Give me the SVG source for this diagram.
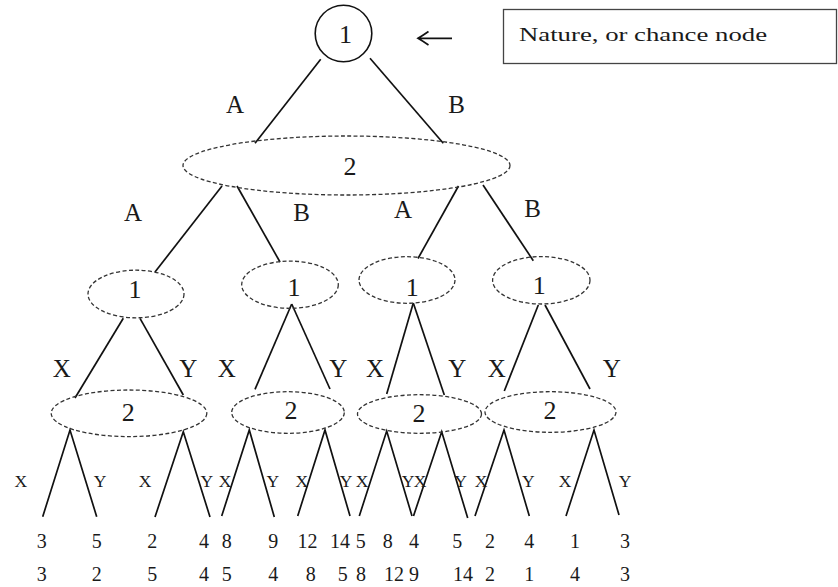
<svg xmlns="http://www.w3.org/2000/svg" width="838" height="587" viewBox="0 0 838 587">
<style>
.bg{fill:#fff}
.e{fill:none;stroke:#333;stroke-width:1.3;stroke-dasharray:4 2.4}
.c{fill:none;stroke:#111;stroke-width:1.6}
.l{stroke:#111;stroke-width:1.7;fill:none}
text{font-family:"Liberation Serif","DejaVu Serif",serif;fill:#1a1a1a;text-anchor:middle}
.n{font-size:26px}
.lb{font-size:25px}
.xs{font-size:17.5px}
.num{font-size:20px}
</style>
<rect class="bg" x="0" y="0" width="838" height="587"/>

<g id="connectors">
<line class="l" x1="320.7" y1="59.3" x2="255" y2="143.3"/>
<line class="l" x1="370" y1="58.3" x2="443.3" y2="143.3"/>
<line class="l" x1="222" y1="186" x2="155" y2="272"/>
<line class="l" x1="237" y1="186" x2="280" y2="262"/>
<line class="l" x1="458.5" y1="186" x2="418" y2="258.5"/>
<line class="l" x1="483" y1="185" x2="533.3" y2="260.7"/>
<line class="l" x1="123.3" y1="318.3" x2="75" y2="398"/>
<line class="l" x1="140" y1="318.3" x2="183.3" y2="395"/>
<line class="l" x1="291.7" y1="304" x2="255" y2="389.3"/>
<line class="l" x1="291.7" y1="304" x2="330" y2="389"/>
<line class="l" x1="413.3" y1="303" x2="386.7" y2="394"/>
<line class="l" x1="413.3" y1="303" x2="444.3" y2="395"/>
<line class="l" x1="538.3" y1="305" x2="504.3" y2="391"/>
<line class="l" x1="545" y1="305" x2="590" y2="389"/>
<path class="l" d="M42.7 516.7 L70 430 L96.7 516.7"/>
<path class="l" d="M155 517 L183.3 431.7 L210 517"/>
<path class="l" d="M221.7 516 L249.3 430 L274.3 517"/>
<path class="l" d="M297.7 516 L325 430 L350 516"/>
<path class="l" d="M359.3 516 L386.7 431 L412 516"/>
<path class="l" d="M413.5 516 L441.7 431.7 L467.7 518"/>
<path class="l" d="M475 516 L504 430 L529.3 516"/>
<path class="l" d="M566 516 L594 430 L619 515"/>
<path class="l" d="M418 38.3 L452 38.3 M428.5 31.5 Q422 36 418 38.3 Q422 40.6 428.5 45"/>
</g>

<g id="edge-labels">
<text class="lb" x="235" y="113">A</text>
<text class="lb" x="456.7" y="113">B</text>
<text class="lb" x="133" y="221">A</text>
<text class="lb" x="301.7" y="221">B</text>
<text class="lb" x="403" y="218">A</text>
<text class="lb" x="532.7" y="217">B</text>
<text class="lb" x="61.7" y="377">X</text>
<text class="lb" x="188.3" y="377">Y</text>
<text class="lb" x="226.7" y="377">X</text>
<text class="lb" x="338.3" y="377">Y</text>
<text class="lb" x="375" y="377">X</text>
<text class="lb" x="457.3" y="377">Y</text>
<text class="lb" x="496.7" y="377">X</text>
<text class="lb" x="611.7" y="377">Y</text>
<text class="xs" x="20.7" y="487">X</text>
<text class="xs" x="100" y="487">Y</text>
<text class="xs" x="145" y="487">X</text>
<text class="xs" x="206.7" y="487">Y</text>
<text class="xs" x="225" y="487">X</text>
<text class="xs" x="272.7" y="487">Y</text>
<text class="xs" x="301.7" y="487">X</text>
<text class="xs" x="346" y="487">Y</text>
<text class="xs" x="362" y="487">X</text>
<text class="xs" x="408" y="487">Y</text>
<text class="xs" x="420" y="487">X</text>
<text class="xs" x="460.5" y="487">Y</text>
<text class="xs" x="481" y="487">X</text>
<text class="xs" x="528.3" y="487">Y</text>
<text class="xs" x="565" y="487">X</text>
<text class="xs" x="625" y="487">Y</text>
</g>

<g id="root-nature">
<circle class="c" cx="343.5" cy="33.5" r="28.3"/>
<text class="n" x="345.5" y="43.3">1</text>
</g>

<g id="legend">
<rect x="503.5" y="9.5" width="333" height="54" fill="none" stroke="#444" stroke-width="1.3"/>
<text x="519" y="41" style="font-size:19px;text-anchor:start" textLength="248" lengthAdjust="spacingAndGlyphs">Nature, or chance node</text>
</g>

<g id="p2-info">
<ellipse class="e" cx="346.5" cy="165.5" rx="163.5" ry="29.5"/>
<text class="n" x="350" y="175">2</text>
</g>

<g id="p1-a"><ellipse class="e" cx="136" cy="294" rx="48" ry="23.8"/><text class="n" x="135" y="298">1</text></g>
<g id="p1-b"><ellipse class="e" cx="290" cy="284.7" rx="48.3" ry="23.6"/><text class="n" x="294" y="296">1</text></g>
<g id="p1-c"><ellipse class="e" cx="407" cy="280" rx="48" ry="23.3"/><text class="n" x="412.3" y="296">1</text></g>
<g id="p1-d"><ellipse class="e" cx="541.3" cy="280.3" rx="48.7" ry="23.7"/><text class="n" x="539.3" y="294">1</text></g>

<g id="p2-a"><ellipse class="e" cx="129" cy="413.3" rx="77.8" ry="23.3"/><text class="n" x="128.3" y="421">2</text></g>
<g id="p2-b"><ellipse class="e" cx="288" cy="412.5" rx="56.3" ry="20.8"/><text class="n" x="291" y="419.3">2</text></g>
<g id="p2-c"><ellipse class="e" cx="419.5" cy="414" rx="62" ry="19.3"/><text class="n" x="419" y="421.5">2</text></g>
<g id="p2-d"><ellipse class="e" cx="550.5" cy="412" rx="65.5" ry="20.3"/><text class="n" x="550" y="419.3">2</text></g>

<g id="payoffs">
<text class="num" x="41.7" y="548">3</text><text class="num" x="41.7" y="580.5">3</text>
<text class="num" x="96.7" y="548">5</text><text class="num" x="96.7" y="580.5">2</text>
<text class="num" x="152.3" y="548">2</text><text class="num" x="152.3" y="580.5">5</text>
<text class="num" x="204" y="548">4</text><text class="num" x="204" y="580.5">4</text>
<text class="num" x="226.7" y="548">8</text><text class="num" x="226.7" y="580.5">5</text>
<text class="num" x="273.3" y="548">9</text><text class="num" x="273.3" y="580.5">4</text>
<text class="num" x="307.5" y="548">12</text><text class="num" x="310.7" y="580.5">8</text>
<text class="num" x="340" y="548">14</text><text class="num" x="342.7" y="580.5">5</text>
<text class="num" x="360.7" y="548">5</text><text class="num" x="361" y="580.5">8</text>
<text class="num" x="387.7" y="548">8</text><text class="num" x="394" y="580.5">12</text>
<text class="num" x="414" y="548">4</text><text class="num" x="414" y="580.5">9</text>
<text class="num" x="457.3" y="548">5</text><text class="num" x="463" y="580.5">14</text>
<text class="num" x="490" y="548">2</text><text class="num" x="490" y="580.5">2</text>
<text class="num" x="529.3" y="548">4</text><text class="num" x="529.3" y="580.5">1</text>
<text class="num" x="575" y="548">1</text><text class="num" x="575" y="580.5">4</text>
<text class="num" x="625" y="548">3</text><text class="num" x="625" y="580.5">3</text>
</g>
</svg>
